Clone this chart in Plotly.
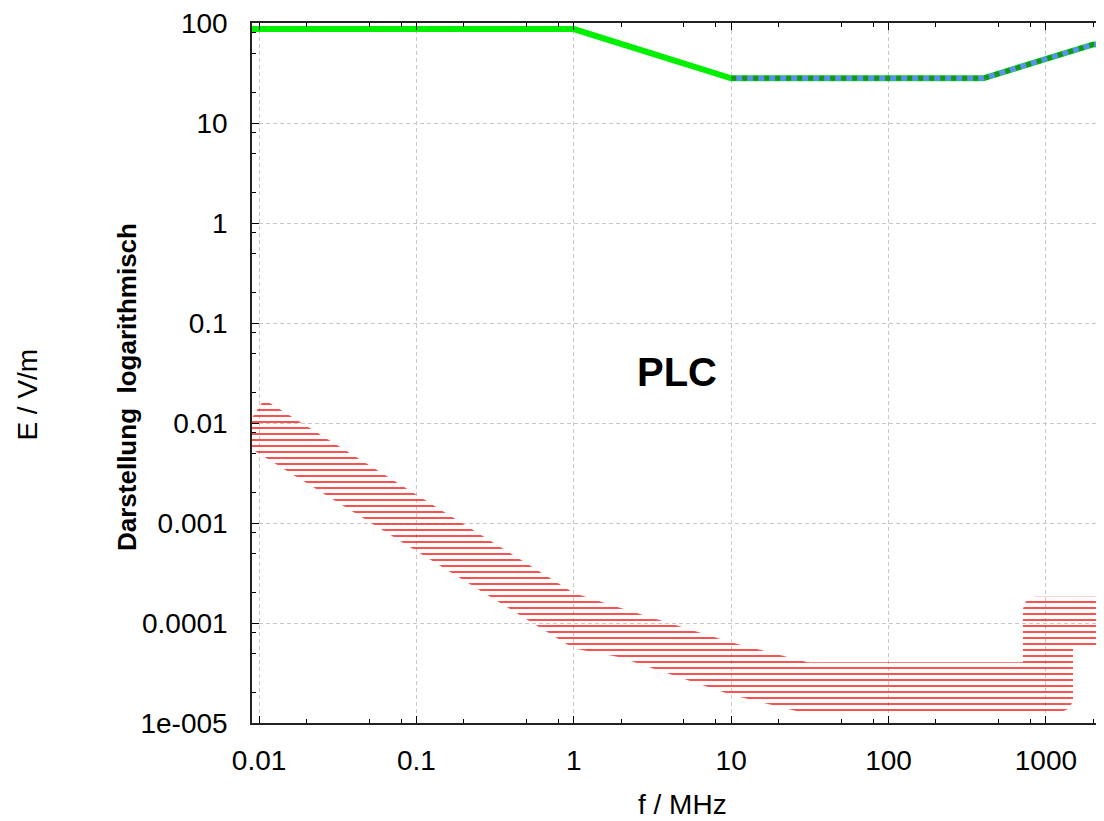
import plotly.graph_objects as go
import math

# ---- data ----
# ICNIRP-like reference level, full curve (green)
limit_f = [0.009, 1.0, 10.0, 400.0, 2000.0, 3000.0]
limit_E = [87.0, 87.0, 28.0, 28.0, 61.0, 61.0]
# part of the curve drawn striped (blue / dark green)
striped_f = [10.0, 400.0, 2000.0, 3000.0]
striped_E = [28.0, 28.0, 61.0, 61.0]

# PLC emission band (red hatched area), traced as one outline
band_upper_f = [0.00746, 0.01076, 1.0, 1.96, 10.1, 30.5, 714.0]
band_upper_E = [7.2e-3, 1.714e-2, 2.0e-4, 1.42e-4, 6.4e-5, 4.05e-5, 4.05e-5]
box_f = [714.0, 752.0, 851.0, 3000.0, 3000.0, 1486.0]
box_E = [1.39e-4, 1.69e-4, 1.83e-4, 1.83e-4, 5.83e-5, 5.83e-5]
band_lower_f = [1486.0, 1413.0, 1247.0, 27.5, 10.1, 1.96, 1.0, 0.009]
band_lower_E = [1.70e-5, 1.40e-5, 1.29e-5, 1.29e-5, 1.9e-5, 4.54e-5, 5.57e-5, 5.47e-3]

x_tickvals = [0.01, 0.1, 1, 10, 100, 1000]
x_ticktext = ["0.01", "0.1", "1", "10", "100", "1000"]
y_tickvals = [1e-5, 1e-4, 1e-3, 1e-2, 0.1, 1, 10, 100]
y_ticktext = ["1e-005", "0.0001", "0.001", "0.01", "0.1", "1", "10", "100"]

x_minor = [m * 10.0 ** d for d in range(-3, 4) for m in (2, 5, 8)]
y_minor = [m * 10.0 ** d for d in range(-6, 3) for m in (2, 5, 8)]

FONT = "Liberation Sans, Arial, sans-serif"

band_f = band_upper_f + box_f + band_lower_f + [band_upper_f[0]]
band_E = band_upper_E + box_E + band_lower_E + [band_upper_E[0]]

fig = go.Figure()

fig.add_trace(go.Scatter(
    x=band_f, y=band_E, mode="lines", fill="toself",
    line=dict(width=0, color="rgba(0,0,0,0)"),
    fillcolor="rgba(0,0,0,0)",
    fillpattern=dict(shape="-", fgcolor="#ff1a1a", bgcolor="rgba(0,0,0,0)",
                     fgopacity=0.85, size=6, solidity=0.3),
    hoverinfo="skip", showlegend=False))

fig.add_trace(go.Scatter(
    x=limit_f, y=limit_E, mode="lines",
    line=dict(color="#00f000", width=6), showlegend=False))

fig.add_trace(go.Scatter(
    x=striped_f, y=striped_E, mode="lines",
    line=dict(color="#5b8ff0", width=5), showlegend=False))

fig.add_trace(go.Scatter(
    x=striped_f, y=striped_E, mode="lines",
    line=dict(color="#0f9a0f", width=5, dash="5px,6px"), showlegend=False))

grid_color = "#c8c8c8"

fig.update_xaxes(
    type="log", range=[-2.045, 3.369],
    tickvals=x_tickvals, ticktext=x_ticktext,
    ticks="inside", ticklen=7, tickwidth=1, tickcolor="black",
    showline=True, linecolor="#222222", linewidth=1.5, mirror="ticks",
    showgrid=True, gridcolor=grid_color, griddash="4px,3px", gridwidth=1,
    zeroline=False, ticklabelstandoff=12, ticklabeloverflow="allow",
    tickfont=dict(family=FONT, size=28, color="black"),
    minor=dict(tickvals=x_minor, ticks="inside", ticklen=4,
               tickcolor="black", showgrid=False),
)
fig.update_yaxes(
    type="log", range=[-5, 2],
    tickvals=y_tickvals, ticktext=y_ticktext,
    ticks="inside", ticklen=7, tickwidth=1, tickcolor="black",
    showline=True, linecolor="#222222", linewidth=1.5, mirror=False,
    showgrid=True, gridcolor=grid_color, griddash="4px,3px", gridwidth=1,
    zeroline=False, ticklabelstandoff=17, ticklabeloverflow="allow",
    tickfont=dict(family=FONT, size=28, color="black"),
    minor=dict(tickvals=y_minor, ticks="inside", ticklen=4,
               tickcolor="black", showgrid=False),
)

fig.add_annotation(text="<b>PLC</b>", x=math.log10(4.53), y=math.log10(0.0324),
                   xref="x", yref="y", showarrow=False,
                   font=dict(family=FONT, size=40, color="black"),
                   xanchor="center", yanchor="middle")
fig.add_annotation(text="<b>Darstellung  logarithmisch</b>", x=-0.1467, y=0.480,
                   xref="paper", yref="paper", showarrow=False, textangle=-90,
                   font=dict(family=FONT, size=26, color="black"),
                   xanchor="center", yanchor="middle")
fig.add_annotation(text="E / V/m", x=-0.263, y=0.469,
                   xref="paper", yref="paper", showarrow=False, textangle=-90,
                   font=dict(family=FONT, size=28, color="black"),
                   xanchor="center", yanchor="middle")
fig.add_annotation(text="f / MHz", x=0.505, y=-0.116,
                   xref="paper", yref="paper", showarrow=False,
                   font=dict(family=FONT, size=28, color="black"),
                   xanchor="center", yanchor="middle")

# the page adds an 8px body margin, so the figure is sized/offset to compensate
fig.update_layout(
    width=1096, height=813,
    margin=dict(l=244, r=0, t=9, b=98),
    paper_bgcolor="white", plot_bgcolor="white",
    showlegend=False,
)

fig.write_html("out.html")
